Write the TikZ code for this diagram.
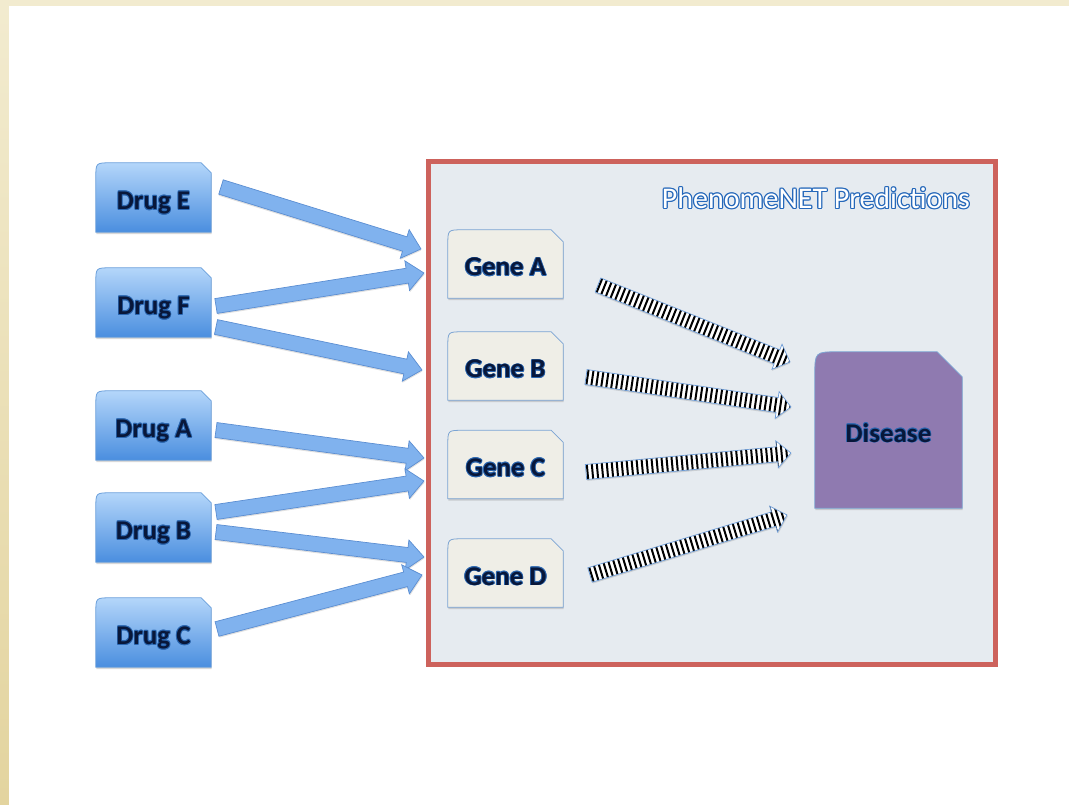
\documentclass[tikz,border=0pt]{standalone}
\usepackage{fontspec}
\setmainfont{Carlito}
\usetikzlibrary{shadows}

\definecolor{cream}{HTML}{F2EBCF}
\definecolor{creamdark}{HTML}{E3D49F}
\definecolor{boxred}{HTML}{CD625C}
\definecolor{panel}{HTML}{E6EBF0}
\definecolor{drugtop}{HTML}{B4D6FA}
\definecolor{drugbot}{HTML}{4A8EDF}
\definecolor{drugedge}{HTML}{6A9FDB}
\definecolor{genefill}{HTML}{EFEEE7}
\definecolor{geneedge}{HTML}{7BA4D3}
\definecolor{disfill}{HTML}{8F7AB0}
\definecolor{arrowfill}{HTML}{80B2EE}
\definecolor{arrowedge}{HTML}{5B8ED2}
\definecolor{stripeedge}{HTML}{6C9BD6}
\definecolor{ink}{HTML}{08173A}
\definecolor{halo}{HTML}{2A66B0}
\definecolor{titleblue}{HTML}{2467BA}

\pgfdeclarelayer{back}
\pgfdeclarelayer{shapes}
\pgfsetlayers{back,shapes,main}

% text with a coloured ring made of offset copies
\newdimen\ringd \newdimen\ringdd
\newcommand\ringtext[4]{%
  \ringd=#2\relax \ringdd=.7\ringd
  \leavevmode\rlap{\color{#1}%
    \rlap{\kern\ringd#4}\rlap{\kern-\ringd#4}%
    \rlap{\raisebox{\ringd}{#4}}\rlap{\raisebox{-\ringd}{#4}}%
    \rlap{\kern\ringdd\raisebox{\ringdd}{#4}}\rlap{\kern-\ringdd\raisebox{\ringdd}{#4}}%
    \rlap{\kern\ringdd\raisebox{-\ringdd}{#4}}\rlap{\kern-\ringdd\raisebox{-\ringdd}{#4}}}%
  {\color{#3}#4}}
\newcommand\lbl[1]{\raisebox{-12pt}[0pt][0pt]{\ringtext{halo}{0.8pt}{ink}{#1}}}

% tag outline: rounded top-left corner, cut top-right corner
\newcommand\tagshape[4]{%
  \path[#4] (#1.south west) -- ([yshift=-#2]#1.north west)
     .. controls (#1.north west) .. ([xshift=#2]#1.north west)
     -- ([xshift=-#3]#1.north east) -- ([yshift=-#3]#1.north east)
     -- (#1.south east) -- cycle;}

% direction and length from one named point to another
\newcommand\arrowframe[2]{%
  \pgfpointdiff{\pgfpointanchor{#1}{center}}{\pgfpointanchor{#2}{center}}%
  \pgfgetlastxy{\ardx}{\ardy}%
  \pgfmathsetmacro\arang{atan2(\ardy,\ardx)}%
  \pgfmathsetmacro\arlen{veclen(\ardx,\ardy)}%
  \pgfmathsetmacro\arbase{\arlen-\headlen}}
\def\arrowpoly{(0,-\shafthw) -- (\arbase,-\shafthw) -- (\arbase,-\headhw)
  -- (\arlen,0) -- (\arbase,\headhw) -- (\arbase,\shafthw) -- (0,\shafthw) -- cycle}

% solid blue block arrow
\newcommand\bluearrow[2]{%
  \def\shafthw{7.5}\def\headhw{15}\def\headlen{17}%
  \arrowframe{#1}{#2}%
  \begin{scope}[shift={(#1)}, rotate=\arang]
    \fill[black, opacity=.12, xshift=.5pt, yshift=-1.5pt] \arrowpoly;
    \path[fill=arrowfill, draw=arrowedge, line width=.7pt, line join=miter] \arrowpoly;
  \end{scope}}

% striped block arrow
\newcommand\stripearrow[2]{%
  \def\shafthw{7.5}\def\headhw{13.5}\def\headlen{14}%
  \arrowframe{#1}{#2}%
  \pgfmathtruncatemacro\nstripes{\arlen/5}%
  \begin{scope}[shift={(#1)}, rotate=\arang]
    \fill[black, opacity=.12, xshift=.5pt, yshift=-1.5pt] \arrowpoly;
    \fill[white] \arrowpoly;
    \begin{scope}
      \clip \arrowpoly;
      \foreach \k in {0,...,\nstripes}
        \draw[black, line width=2pt] ({\k*5+1.5},-16) -- ({\k*5+1.5},16);
    \end{scope}
    \draw[stripeedge, line width=.7pt] \arrowpoly;
  \end{scope}}

\tikzset{
  tag/.style={minimum width=115pt, minimum height=69pt, inner sep=0pt,
    font=\fontsize{27}{30}\selectfont\bfseries, text=ink},
  drugshape/.style={top color=drugtop, bottom color=drugbot, draw=drugedge,
    line width=.8pt, drop shadow={opacity=.3, shadow xshift=.5pt, shadow yshift=-2pt}},
  geneshape/.style={fill=genefill, draw=geneedge, line width=.8pt,
    drop shadow={opacity=.3, shadow xshift=.5pt, shadow yshift=-2pt}},
  disshape/.style={fill=disfill, draw=geneedge, line width=.8pt,
    drop shadow={opacity=.3, shadow xshift=.5pt, shadow yshift=-2pt}},
}

\begin{document}
\begin{tikzpicture}[x=1pt, y=-1pt]
\useasboundingbox (0,0) rectangle (1069,805);

\begin{pgfonlayer}{back}
  \fill[cream] (0,0) rectangle (1069,805);
  \shade[top color=cream, bottom color=creamdark] (0,6) rectangle (9,805);
  \fill[white] (9,6) rectangle (1069,805);
  \node[draw=boxred, line width=5pt, fill=panel, minimum width=566.5pt,
        minimum height=502pt, inner sep=0pt,
        drop shadow={opacity=.25, shadow xshift=1pt, shadow yshift=-2pt}]
        (panel) at (711.75,413) {};
\end{pgfonlayer}

\node[anchor=east, inner sep=0pt, font=\fontsize{30}{32}\selectfont] (title)
  at (970,198) {\ringtext{titleblue}{1.2pt}{white}{PhenomeNET Predictions}};

% drugs
\node[tag] (dE) at (153.5,197.5) {\lbl{Drug E}};
\node[tag] (dF) at (153.5,302.5) {\lbl{Drug F}};
\node[tag] (dA) at (153.5,425.5) {\lbl{Drug A}};
\node[tag] (dB) at (153.5,527.5) {\lbl{Drug B}};
\node[tag] (dC) at (153.5,632.5) {\lbl{Drug C}};

% genes
\node[tag, minimum height=68pt] (gA) at (505.5,264) {\lbl{Gene A}};
\node[tag, minimum height=68pt] (gB) at (505.5,366) {\lbl{Gene B}};
\node[tag, minimum height=68pt] (gC) at (505.5,464.5) {\lbl{Gene C}};
\node[tag, minimum height=68pt] (gD) at (505.5,573) {\lbl{Gene D}};

% disease
\node[tag, minimum width=147pt, minimum height=156pt] (dis) at (888.5,430) {\lbl{Disease}};

\begin{pgfonlayer}{shapes}
  \foreach \n in {dE,dF,dA,dB,dC} {\tagshape{\n}{15pt}{10pt}{drugshape}}
  \foreach \n in {gA,gB,gC,gD} {\tagshape{\n}{15pt}{12pt}{geneshape}}
  \tagshape{dis}{24pt}{25pt}{disshape}
\end{pgfonlayer}

% arrow ends
\coordinate (eA0) at (221,187);  \coordinate (eA1) at (421,249);
\coordinate (fA0) at (216,306);  \coordinate (fA1) at (424,273);
\coordinate (fB0) at (216,327);  \coordinate (fB1) at (422,370);
\coordinate (aC0) at (216,430);  \coordinate (aC1) at (424,458);
\coordinate (bC0) at (216,512);  \coordinate (bC1) at (424,481);
\coordinate (bD0) at (216,532);  \coordinate (bD1) at (424,557);
\coordinate (cD0) at (217,629);  \coordinate (cD1) at (422,575);

\bluearrow{eA0}{eA1}
\bluearrow{fA0}{fA1}
\bluearrow{fB0}{fB1}
\bluearrow{aC0}{aC1}
\bluearrow{bC0}{bC1}
\bluearrow{bD0}{bD1}
\bluearrow{cD0}{cD1}

\coordinate (gA0) at (598,285);  \coordinate (gA1) at (790,362);
\coordinate (gB0) at (586,377);  \coordinate (gB1) at (791,407);
\coordinate (gC0) at (586,472);  \coordinate (gC1) at (791,453);
\coordinate (gD0) at (590,575);  \coordinate (gD1) at (787,515);

\stripearrow{gA0}{gA1}
\stripearrow{gB0}{gB1}
\stripearrow{gC0}{gC1}
\stripearrow{gD0}{gD1}
\end{tikzpicture}
\end{document}
